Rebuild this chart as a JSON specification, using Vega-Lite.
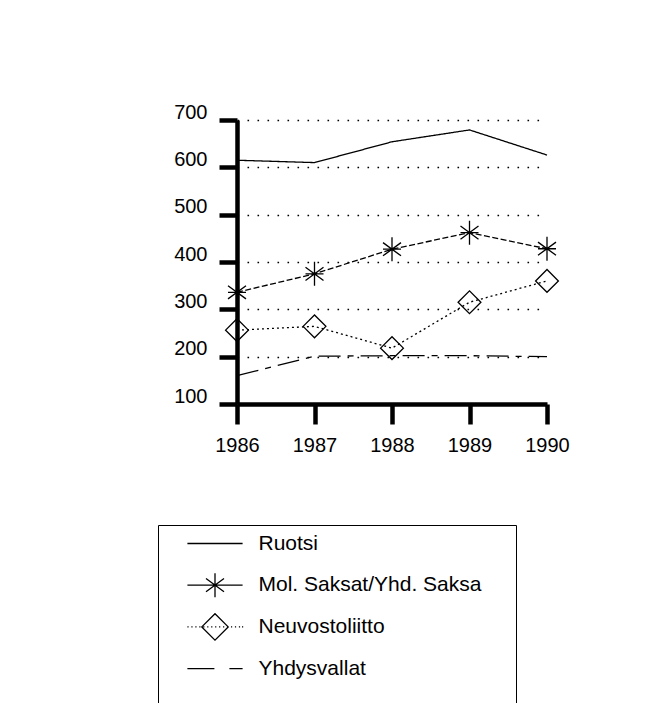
{
  "$schema": "https://vega.github.io/schema/vega-lite/v6.json",
  "width": 310,
  "height": 284,
  "autosize": {"type": "none"},
  "padding": {"left": 237, "top": 120, "right": 113, "bottom": 299},
  "background": "white",
  "config": {
    "view": {"stroke": null},
    "font": "Liberation Sans",
    "axis": {
      "domainColor": "black",
      "domainWidth": 4.5,
      "tickColor": "black",
      "tickWidth": 4.5,
      "labelColor": "black",
      "labelFont": "Liberation Sans",
      "labelFontSize": 20,
      "title": null
    }
  },
  "data": {
    "values": [
      {"year": 1986, "series": "Ruotsi", "value": 615},
      {"year": 1987, "series": "Ruotsi", "value": 610},
      {"year": 1988, "series": "Ruotsi", "value": 654},
      {"year": 1989, "series": "Ruotsi", "value": 679},
      {"year": 1990, "series": "Ruotsi", "value": 626},
      {"year": 1986, "series": "Mol. Saksat/Yhd. Saksa", "value": 336},
      {"year": 1987, "series": "Mol. Saksat/Yhd. Saksa", "value": 375},
      {"year": 1988, "series": "Mol. Saksat/Yhd. Saksa", "value": 427},
      {"year": 1989, "series": "Mol. Saksat/Yhd. Saksa", "value": 462},
      {"year": 1990, "series": "Mol. Saksat/Yhd. Saksa", "value": 428},
      {"year": 1986, "series": "Neuvostoliitto", "value": 256},
      {"year": 1987, "series": "Neuvostoliitto", "value": 264},
      {"year": 1988, "series": "Neuvostoliitto", "value": 218},
      {"year": 1989, "series": "Neuvostoliitto", "value": 315},
      {"year": 1990, "series": "Neuvostoliitto", "value": 360},
      {"year": 1986, "series": "Yhdysvallat", "value": 160},
      {"year": 1987, "series": "Yhdysvallat", "value": 201},
      {"year": 1988, "series": "Yhdysvallat", "value": 202},
      {"year": 1989, "series": "Yhdysvallat", "value": 202},
      {"year": 1990, "series": "Yhdysvallat", "value": 200}
    ]
  },
  "encoding": {
    "x": {
      "field": "year",
      "type": "quantitative",
      "scale": {"domain": [1986, 1990], "nice": false, "zero": false},
      "axis": {
        "values": [1986, 1987, 1988, 1989, 1990],
        "format": "d",
        "grid": false,
        "tickSize": 20,
        "labelPadding": 11,
        "labelFlush": false
      }
    },
    "y": {
      "field": "value",
      "type": "quantitative",
      "scale": {"domain": [100, 700], "nice": false, "zero": false},
      "axis": {
        "values": [100, 200, 300, 400, 500, 600, 700],
        "grid": true,
        "gridColor": "black",
        "gridDash": [1.6, 8.4],
        "gridWidth": 1.6,
        "tickSize": 18,
        "labelPadding": 12,
        "labelOffset": -2,
        "labelBaseline": "alphabetic",
        "labelFlush": false
      }
    }
  },
  "layer": [
    {
      "mark": {"type": "line", "color": "black", "strokeWidth": 1.3},
      "encoding": {
        "strokeDash": {
          "field": "series",
          "type": "nominal",
          "scale": {
            "domain": ["Ruotsi", "Mol. Saksat/Yhd. Saksa", "Neuvostoliitto", "Yhdysvallat"],
            "range": [[1, 0], [6, 2.5], [2, 3], [22, 7, 6, 7]]
          },
          "legend": null
        }
      }
    },
    {
      "transform": [{"filter": {"field": "series", "oneOf": ["Mol. Saksat/Yhd. Saksa", "Neuvostoliitto"]}}],
      "mark": {"type": "point", "filled": false, "color": "black", "size": 576, "strokeWidth": 1.3, "opacity": 1},
      "encoding": {
        "shape": {
          "field": "series",
          "type": "nominal",
          "scale": {
            "domain": ["Mol. Saksat/Yhd. Saksa", "Neuvostoliitto"],
            "range": [
              "M-0.75,0H0.75M0,-1V1M-0.75,-0.55L0.75,0.55M-0.75,0.55L0.75,-0.55",
              "M-0.95,0L0,-0.95L0.95,0L0,0.95Z"
            ]
          },
          "legend": null
        }
      }
    },
    {
      "mark": {"type": "point", "filled": false, "color": "black", "size": 576, "strokeWidth": 1.3, "opacity": 0},
      "encoding": {
        "shape": {
          "field": "series",
          "type": "nominal",
          "scale": {
            "domain": ["Ruotsi", "Mol. Saksat/Yhd. Saksa", "Neuvostoliitto", "Yhdysvallat"],
            "range": [
              "M-2.3,0H2.3M-4.25,-1.1M24.35,1.1",
              "M-2.3,0H2.3M0,-1V1M-0.75,-0.55L0.75,0.55M-0.75,0.55L0.75,-0.55M-4.25,-1.1M24.35,1.1",
              "M-2.3,0h0.1M-1.97,0h0.1M-1.64,0h0.1M-1.31,0h0.1M-0.98,0h0.1M-0.65,0h0.1M-0.32,0h0.1M0.01,0h0.1M0.34,0h0.1M0.67,0h0.1M1,0h0.1M1.33,0h0.1M1.66,0h0.1M1.99,0h0.1M2.25,0h0.1M-1.1,0L0,-1.1L1.1,0L0,1.1ZM-4.25,-1.1M24.35,1.1",
              "M-2.3,0H-0.05M1.2,0H2.3M-4.25,-1.1M24.35,3"
            ]
          },
          "legend": {
            "title": null,
            "orient": "none",
            "legendX": -79,
            "legendY": 405,
            "padding": 5.5,
            "strokeColor": "black",
            "fillColor": "white",
            "labelFont": "Liberation Sans",
            "labelFontSize": 21,
            "labelColor": "black",
            "labelLimit": 0,
            "symbolOffset": 38.5,
            "labelOffset": 30.5,
            "rowPadding": 9.7,
            "symbolOpacity": 1,
            "symbolStrokeColor": "black",
            "symbolFillColor": "transparent",
            "symbolStrokeWidth": 1.3,
            "symbolSize": 576
          }
        }
      }
    }
  ],
  "resolve": {"scale": {"shape": "independent"}, "legend": {"shape": "independent"}}
}
